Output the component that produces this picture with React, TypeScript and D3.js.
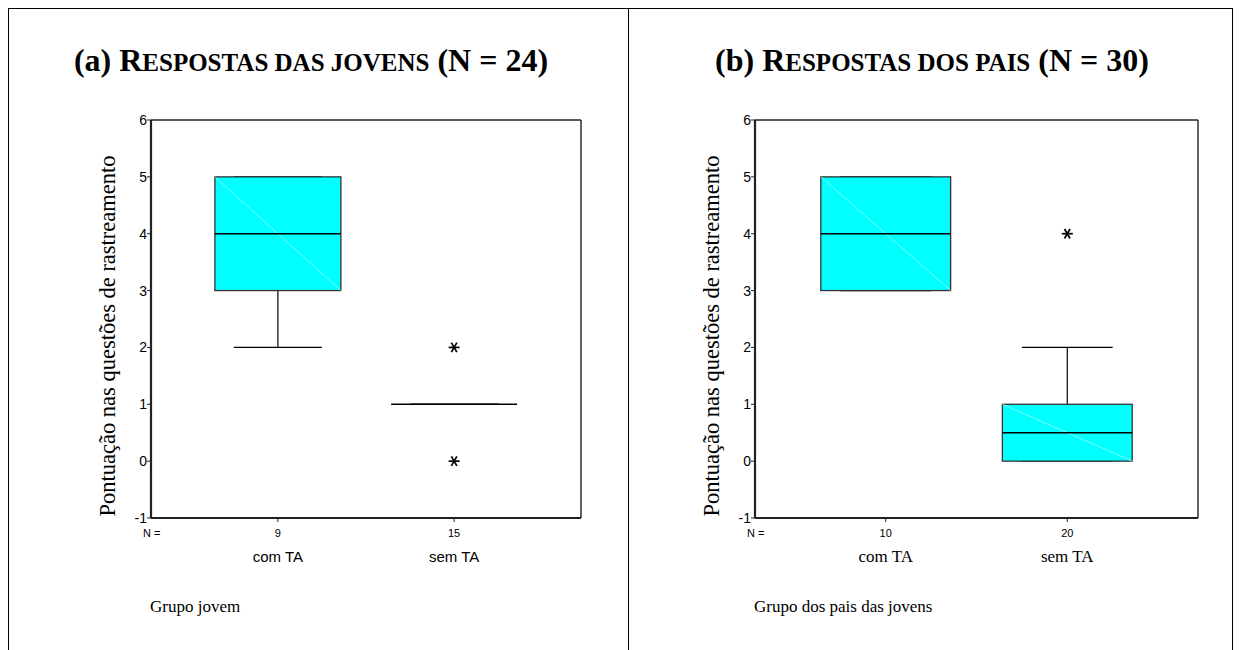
import React from 'react';
import { scaleLinear, scalePoint } from 'd3';

// groups on the x axis
const categories = ['com TA', 'sem TA'];
const yTicks = [-1, 0, 1, 2, 3, 4, 5, 6];

// (a) jovens
const jovensN = [9, 15];
const jovensQ1 = [3, 1];
const jovensMedian = [4, 1];
const jovensQ3 = [5, 1];
const jovensLow = [2, 1];
const jovensHigh = [5, 1];
const jovensOutliers = [[], [2, 0]];

// (b) pais
const paisN = [10, 20];
const paisQ1 = [3, 0];
const paisMedian = [4, 0.5];
const paisQ3 = [5, 1];
const paisLow = [3, 0];
const paisHigh = [5, 2];
const paisOutliers = [[], [4]];

const serif = '"Liberation Serif", "Times New Roman", serif';
const sans = '"Liberation Sans", Arial, sans-serif';

type PanelProps = {
  left: number;
  right: number;
  letter: string;
  titleWord: string;
  titleN: number;
  titleX: number;
  counts: number[];
  q1: number[];
  median: number[];
  q3: number[];
  low: number[];
  high: number[];
  outliers: number[][];
  catFont: string;
  catSize: number;
  groupLabel: string;
};

function Star({ x, y }: { x: number; y: number }) {
  const r = 5.5;
  const dx = r * Math.cos(Math.PI / 3);
  const dy = r * Math.sin(Math.PI / 3);
  return (
    <g stroke="#000" strokeWidth={1.7}>
      <line x1={x - r} y1={y} x2={x + r} y2={y} />
      <line x1={x - dx} y1={y - dy} x2={x + dx} y2={y + dy} />
      <line x1={x - dx} y1={y + dy} x2={x + dx} y2={y - dy} />
    </g>
  );
}

function Panel(p: PanelProps) {
  const top = 120;
  const bottom = 518;
  const y = scaleLinear().domain([-1, 6]).range([bottom, top]);
  const x = scalePoint().domain(categories).range([p.left, p.right]).padding(0.72);
  const step = x.step();
  const boxW = step * 0.715;
  const capW = step * 0.5;
  const midY = 336;

  return (
    <g>
      {/* title with small caps */}
      <text x={p.titleX} y={71} textAnchor="middle" fontFamily={serif} fontWeight="bold" fontSize={32}>
        <tspan>{`(${p.letter}) R`}</tspan>
        <tspan fontSize={25}>{p.titleWord}</tspan>
        <tspan>{` (N = ${p.titleN})`}</tspan>
      </text>

      {/* frame */}
      <line x1={p.left} y1={top} x2={p.right} y2={top} stroke="#222" strokeWidth={1.4} />
      <line x1={p.right} y1={top} x2={p.right} y2={bottom} stroke="#222" strokeWidth={1.4} />
      <line x1={p.left} y1={bottom} x2={p.right} y2={bottom} stroke="#222" strokeWidth={2} />
      <line x1={p.left} y1={top} x2={p.left} y2={bottom} stroke="#222" strokeWidth={2.2} />

      {yTicks.map(t => (
        <g key={t}>
          <line x1={p.left - 4} x2={p.left} y1={y(t)} y2={y(t)} stroke="#222" strokeWidth={1} />
          <text x={p.left - 4} y={y(t)} dy="0.36em" textAnchor="end" fontFamily={sans} fontSize={14}>
            {t}
          </text>
        </g>
      ))}

      <text
        transform={`translate(${p.left - 36},${midY}) rotate(-90)`}
        textAnchor="middle"
        fontFamily={serif}
        fontSize={22.5}
      >
        Pontuação nas questões de rastreamento
      </text>

      <text x={p.left - 8} y={537} fontFamily={sans} fontSize={11}>N =</text>

      {categories.map((c, i) => {
        const cx = x(c) as number;
        return (
          <g key={c}>
            <line x1={cx} x2={cx} y1={bottom} y2={bottom + 4} stroke="#222" />
            <text x={cx} y={537} textAnchor="middle" fontFamily={sans} fontSize={11}>{p.counts[i]}</text>
            <text x={cx} y={562} textAnchor="middle" fontFamily={p.catFont} fontSize={p.catSize}>{c}</text>

            {/* whiskers */}
            <line x1={cx} x2={cx} y1={y(p.high[i])} y2={y(p.q3[i])} stroke="#000" strokeWidth={1.2} />
            <line x1={cx} x2={cx} y1={y(p.low[i])} y2={y(p.q1[i])} stroke="#000" strokeWidth={1.2} />
            <line x1={cx - capW / 2} x2={cx + capW / 2} y1={y(p.high[i])} y2={y(p.high[i])} stroke="#000" strokeWidth={1.3} />
            <line x1={cx - capW / 2} x2={cx + capW / 2} y1={y(p.low[i])} y2={y(p.low[i])} stroke="#000" strokeWidth={1.3} />

            {/* box */}
            <rect
              x={cx - boxW / 2}
              y={y(p.q3[i])}
              width={boxW}
              height={y(p.q1[i]) - y(p.q3[i])}
              fill="#00ffff"
              stroke="#333"
              strokeWidth={1.3}
            />
            {p.q3[i] > p.q1[i] && (
              <line
                x1={cx - boxW / 2}
                y1={y(p.q3[i])}
                x2={cx + boxW / 2}
                y2={y(p.q1[i])}
                stroke="#bff"
                strokeWidth={0.7}
              />
            )}
            <line
              x1={cx - boxW / 2}
              x2={cx + boxW / 2}
              y1={y(p.median[i])}
              y2={y(p.median[i])}
              stroke="#000"
              strokeWidth={1.4}
            />

            {p.outliers[i].map((o, k) => (
              <Star key={k} x={cx} y={y(o)} />
            ))}
          </g>
        );
      })}

      <text x={p.left - 1} y={612} fontFamily={serif} fontSize={17}>{p.groupLabel}</text>
    </g>
  );
}

export default function App() {
  return (
    <svg
      width={1239}
      height={650}
      style={{ position: 'absolute', left: 0, top: 0, background: '#fff' }}
    >
      <rect x={0} y={0} width={1239} height={650} fill="#fff" />
      <line x1={8} y1={8.5} x2={1233} y2={8.5} stroke="#000" />
      <line x1={8.5} y1={8} x2={8.5} y2={650} stroke="#000" />
      <line x1={628.5} y1={8} x2={628.5} y2={650} stroke="#000" />
      <line x1={1232.5} y1={8} x2={1232.5} y2={650} stroke="#000" />

      <Panel
        left={151}
        right={581}
        letter="a"
        titleWord="ESPOSTAS DAS JOVENS"
        titleN={24}
        titleX={311}
        counts={jovensN}
        q1={jovensQ1}
        median={jovensMedian}
        q3={jovensQ3}
        low={jovensLow}
        high={jovensHigh}
        outliers={jovensOutliers}
        catFont={sans}
        catSize={15}
        groupLabel="Grupo jovem"
      />
      <Panel
        left={755}
        right={1198}
        letter="b"
        titleWord="ESPOSTAS DOS PAIS"
        titleN={30}
        titleX={932}
        counts={paisN}
        q1={paisQ1}
        median={paisMedian}
        q3={paisQ3}
        low={paisLow}
        high={paisHigh}
        outliers={paisOutliers}
        catFont={serif}
        catSize={17}
        groupLabel="Grupo dos pais das jovens"
      />
    </svg>
  );
}
